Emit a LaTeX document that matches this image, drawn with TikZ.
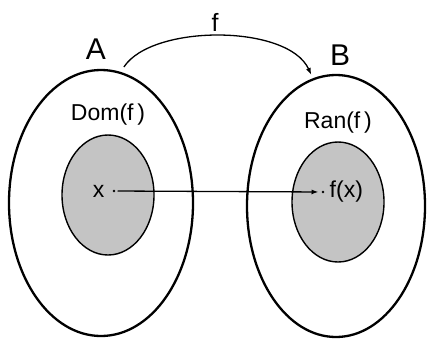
\documentclass[tikz,border=0pt]{standalone}
\usepackage{fontspec}
\setmainfont{Liberation Sans}
\usepackage{xcolor}
\usetikzlibrary{
  arrows.meta, positioning, shapes.geometric
}
\definecolor{cgray}{HTML}{C4C4C4}

\begin{document}
\begin{tikzpicture}[
  x=1pt, y=1pt,
  >={Latex[length=7pt,width=5pt]},
  outerset/.style={draw, ellipse, line width=2.3pt, inner sep=0pt},
  innerset/.style={draw, ellipse, line width=1.4pt, fill=cgray, inner sep=0pt},
  setname/.style={font=\fontsize{30}{32}\selectfont, inner sep=0pt},
  lbl/.style={font=\fontsize{23}{26}\selectfont, inner sep=0pt},
  pt/.style={circle, fill, inner sep=0pt, minimum size=2.6pt},
  arr/.style={->, line width=1.3pt},
]
\useasboundingbox (0,0) rectangle (427,338);

\node[outerset, minimum width=184, minimum height=266] (setA) at (101,135) {};
\node[outerset, minimum width=178, minimum height=262] (setB) at (336,132) {};
\node[innerset, minimum width=92, minimum height=120] (dom) at (108,143) {};
\node[innerset, minimum width=92, minimum height=120] (ran) at (338,136) {};

\node[setname] (la) at (96,289) {A};
\node[setname] (lb) at (340,283) {B};
\node[lbl, font=\fontsize{25}{28}\selectfont] (lf) at (215,316) {f};
\node[lbl, above=9pt of dom] (ldom) {Dom(f\,)};
\node[lbl, above=8pt of ran] (lran) {Ran(f\,)};

\node[pt] (px) at (114,147) {};
\node[pt] (pfx) at (323,146) {};
\node[lbl, left=8pt of px] (lx) {x};
\node[lbl, right=5pt of pfx] (lfx) {f(x)};

\draw[arr, shorten <=2pt, shorten >=3pt] (px) -- (pfx);
\draw[arr] ([yshift=6pt]setA.80) .. controls (152,314) and (288,314)
  .. ([yshift=4pt]setB.101);
\end{tikzpicture}
\end{document}
